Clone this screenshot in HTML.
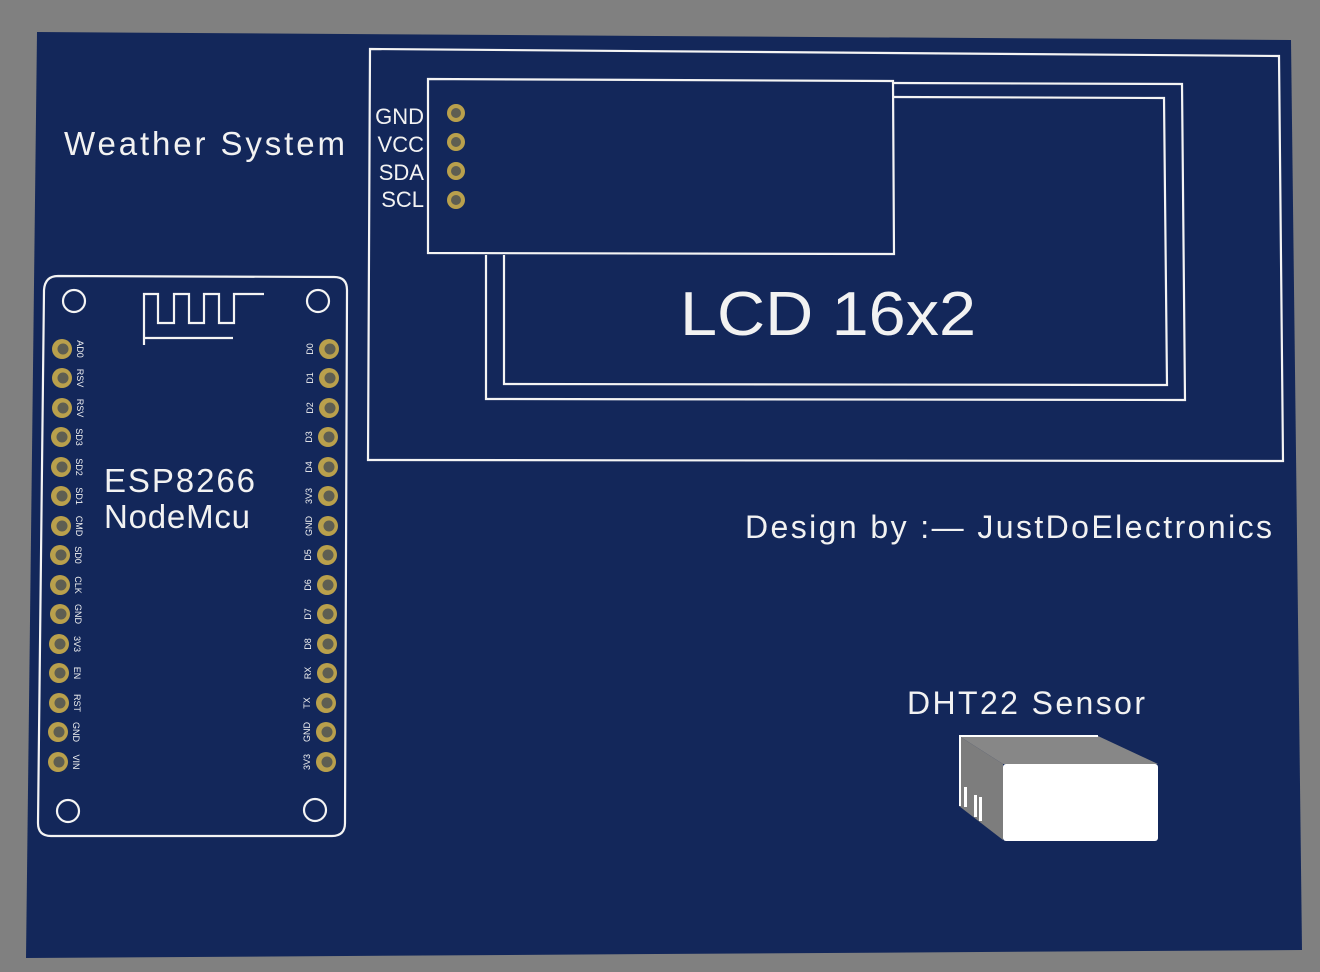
<!DOCTYPE html>
<html><head><meta charset="utf-8"><style>
html,body{margin:0;padding:0;background:#808080;}
svg{display:block}
text{font-family:"Liberation Sans","DejaVu Sans",sans-serif;fill:#f2f2f2}
</style></head><body>
<svg width="1320" height="972" viewBox="0 0 1320 972" xmlns="http://www.w3.org/2000/svg">
<rect width="1320" height="972" fill="#808080"/>
<polygon points="37,32 1291,40 1302,950 26,958" fill="#13275a"/>
<g fill="none" stroke="#f4f4f4" stroke-width="2.2">
<polygon points="370,49 1279,56 1283,461 368,460"/>
<polygon points="428,79 893,81 894,254 428,253"/>
<polyline points="894,83 1182,84 1185,400 486,399 486,255"/>
<polyline points="894,97 1164,98 1167,385 504,384 504,255"/>
<path d="M58,276 L334,277 Q347,277 347,290 L345,823 Q345,836 332,836 L51,836 Q38,836 38,823 L44,290 Q45,276 58,276 Z"/>
<circle cx="74" cy="301" r="11"/><circle cx="318" cy="301" r="11"/>
<circle cx="68" cy="811" r="11"/><circle cx="315" cy="810" r="11"/>
<polyline points="144,345 144,294 158,294 158,323 174,323 174,294 189,294 189,323 204,323 204,294 219,294 219,323 234,323 234,294 264,294"/>
<line x1="144" y1="338" x2="233" y2="338"/>
</g>
<text x="64" y="155" font-size="33" textLength="281" lengthAdjust="spacing">Weather System</text>
<text x="104" y="492" font-size="33" textLength="151" lengthAdjust="spacing">ESP8266</text>
<text x="104" y="528" font-size="33" textLength="146" lengthAdjust="spacing">NodeMcu</text>
<text x="680" y="335" font-size="62" textLength="296" lengthAdjust="spacingAndGlyphs">LCD 16x2</text>
<text x="745" y="538" font-size="32" textLength="527" lengthAdjust="spacing">Design by :— JustDoElectronics</text>
<text x="907" y="714" font-size="32" textLength="238" lengthAdjust="spacing">DHT22 Sensor</text>
<g font-size="22" text-anchor="end">
<text x="424" y="124">GND</text><text x="424" y="152">VCC</text>
<text x="424" y="180">SDA</text><text x="424" y="207">SCL</text>
</g>
<g fill="#b9a04c"><circle cx="456" cy="113" r="9"/><circle cx="456" cy="142" r="9"/><circle cx="456" cy="171" r="9"/><circle cx="456" cy="200" r="9"/></g>
<g fill="#5e5e52"><circle cx="456" cy="113" r="5"/><circle cx="456" cy="142" r="5"/><circle cx="456" cy="171" r="5"/><circle cx="456" cy="200" r="5"/></g>
<g font-size="9">
<g fill="#b9a04c">
<circle cx="62" cy="349" r="10"/><circle cx="62" cy="378" r="10"/><circle cx="62" cy="408" r="10"/><circle cx="61" cy="437" r="10"/><circle cx="61" cy="467" r="10"/><circle cx="61" cy="496" r="10"/><circle cx="61" cy="526" r="10"/><circle cx="60" cy="555" r="10"/><circle cx="60" cy="585" r="10"/><circle cx="60" cy="614" r="10"/><circle cx="59" cy="644" r="10"/><circle cx="59" cy="673" r="10"/><circle cx="59" cy="703" r="10"/><circle cx="58" cy="732" r="10"/><circle cx="58" cy="762" r="10"/>
<circle cx="329" cy="349" r="10"/><circle cx="329" cy="378" r="10"/><circle cx="329" cy="408" r="10"/><circle cx="328" cy="437" r="10"/><circle cx="328" cy="467" r="10"/><circle cx="328" cy="496" r="10"/><circle cx="328" cy="526" r="10"/><circle cx="327" cy="555" r="10"/><circle cx="327" cy="585" r="10"/><circle cx="327" cy="614" r="10"/><circle cx="327" cy="644" r="10"/><circle cx="327" cy="673" r="10"/><circle cx="326" cy="703" r="10"/><circle cx="326" cy="732" r="10"/><circle cx="326" cy="762" r="10"/>
</g>
<g fill="#5e5e52">
<circle cx="63" cy="349" r="5.5"/><circle cx="63" cy="378" r="5.5"/><circle cx="63" cy="408" r="5.5"/><circle cx="62" cy="437" r="5.5"/><circle cx="62" cy="467" r="5.5"/><circle cx="62" cy="496" r="5.5"/><circle cx="62" cy="526" r="5.5"/><circle cx="61" cy="555" r="5.5"/><circle cx="61" cy="585" r="5.5"/><circle cx="61" cy="614" r="5.5"/><circle cx="60" cy="644" r="5.5"/><circle cx="60" cy="673" r="5.5"/><circle cx="60" cy="703" r="5.5"/><circle cx="59" cy="732" r="5.5"/><circle cx="59" cy="762" r="5.5"/>
<circle cx="330" cy="349" r="5.5"/><circle cx="330" cy="378" r="5.5"/><circle cx="330" cy="408" r="5.5"/><circle cx="329" cy="437" r="5.5"/><circle cx="329" cy="467" r="5.5"/><circle cx="329" cy="496" r="5.5"/><circle cx="329" cy="526" r="5.5"/><circle cx="328" cy="555" r="5.5"/><circle cx="328" cy="585" r="5.5"/><circle cx="328" cy="614" r="5.5"/><circle cx="328" cy="644" r="5.5"/><circle cx="328" cy="673" r="5.5"/><circle cx="327" cy="703" r="5.5"/><circle cx="327" cy="732" r="5.5"/><circle cx="327" cy="762" r="5.5"/>
</g>
<g text-anchor="middle">
<text transform="translate(77,349) rotate(90)">AD0</text>
<text transform="translate(77,378) rotate(90)">RSV</text>
<text transform="translate(77,408) rotate(90)">RSV</text>
<text transform="translate(76,437) rotate(90)">SD3</text>
<text transform="translate(76,467) rotate(90)">SD2</text>
<text transform="translate(76,496) rotate(90)">SD1</text>
<text transform="translate(76,526) rotate(90)">CMD</text>
<text transform="translate(75,555) rotate(90)">SD0</text>
<text transform="translate(75,585) rotate(90)">CLK</text>
<text transform="translate(75,614) rotate(90)">GND</text>
<text transform="translate(74,644) rotate(90)">3V3</text>
<text transform="translate(74,673) rotate(90)">EN</text>
<text transform="translate(74,703) rotate(90)">RST</text>
<text transform="translate(73,732) rotate(90)">GND</text>
<text transform="translate(73,762) rotate(90)">VIN</text>
<text transform="translate(313,349) rotate(-90)">D0</text>
<text transform="translate(313,378) rotate(-90)">D1</text>
<text transform="translate(313,408) rotate(-90)">D2</text>
<text transform="translate(312,437) rotate(-90)">D3</text>
<text transform="translate(312,467) rotate(-90)">D4</text>
<text transform="translate(312,496) rotate(-90)">3V3</text>
<text transform="translate(312,526) rotate(-90)">GND</text>
<text transform="translate(311,555) rotate(-90)">D5</text>
<text transform="translate(311,585) rotate(-90)">D6</text>
<text transform="translate(311,614) rotate(-90)">D7</text>
<text transform="translate(311,644) rotate(-90)">D8</text>
<text transform="translate(311,673) rotate(-90)">RX</text>
<text transform="translate(310,703) rotate(-90)">TX</text>
<text transform="translate(310,732) rotate(-90)">GND</text>
<text transform="translate(310,762) rotate(-90)">3V3</text>
</g>
</g>
<polygon points="959,736 1098,736 1158,764 1003,764" fill="#878787"/>
<polygon points="959,736 1003,764 1003,840 959,806" fill="#7d7d7d"/>
<polyline points="960,806 960,736 1098,736" fill="none" stroke="#fff" stroke-width="2"/>
<rect x="1003" y="764" width="155" height="77" rx="3" fill="#fff"/>
<g fill="#fff"><rect x="964" y="787" width="3" height="20"/><rect x="974" y="795" width="3" height="22"/><rect x="979" y="797" width="3" height="24"/></g>
</svg>
</body></html>
